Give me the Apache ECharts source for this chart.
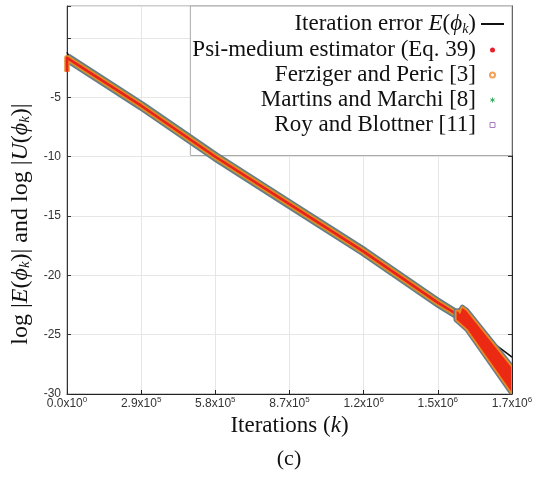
<!DOCTYPE html>
<html><head><meta charset="utf-8">
<script src="https://cdn.jsdelivr.net/npm/echarts@6/dist/echarts.min.js"></script>
<style>html,body{margin:0;padding:0;background:#fff}#c{width:543px;height:478px}</style>
</head><body><div id="c"></div>
<script>
// ---- data ----
const seriesNames = ['Iteration error', 'Psi-medium estimator (Eq. 39)', 'Ferziger and Peric [3]', 'Martins and Marchi [8]', 'Roy and Blottner [11]'];
const xTickMant = ['0.0', '2.9', '5.8', '8.7', '1.2', '1.5', '1.7'];
const xTickExp = ['0', '5', '5', '5', '6', '6', '6'];
const yTickValues = [-30, -25, -20, -15, -10, -5];

const errK   = [0, 15000, 290000, 580000, 870000, 1160000, 1450000, 1525000, 1740000];
const errVal = [-1.2, -1.87, -5.7, -10.0, -14.0, -18.0, -22.3, -23.4, -26.9];

const estK      = [0, 0, 290000, 580000, 870000, 1160000, 1450000, 1525000];
const psiVals   = [-2.85, -1.67, -5.7, -10.0, -14.0, -18.0, -22.3, -23.3];
const ferzVals  = [-2.85, -1.67, -5.7, -10.0, -14.0, -18.0, -22.3, -23.3];
const estKb     = [0, 290000, 580000, 870000, 1160000, 1450000, 1525000];
const martVals  = [-1.67, -5.7, -10.0, -14.0, -18.0, -22.3, -23.3];
const royVals   = [-1.67, -5.7, -10.0, -14.0, -18.0, -22.3, -23.3];

// oscillating region of the estimators near the end (upper / lower envelope)
const wedgeTopK   = [1520000, 1531000, 1536000, 1541000, 1546000, 1552000, 1562000, 1740000];
const wedgeTopVal = [-23.0, -22.95, -23.15, -22.8, -22.65, -22.75, -22.9, -27.7];
const wedgeBotK   = [1520000, 1564000, 1740000];
const wedgeBotVal = [-23.75, -24.6, -30.0];

// ---- chart ----
const serif = '"Liberation Serif", "Times New Roman", serif';
const sans = '"Liberation Sans", Arial, sans-serif';
const zip = (a, b) => a.map((v, i) => [v, b[i]]);

const richFor = size => ({
  n: { fontFamily: serif, fontSize: size, lineHeight: 25, color: '#111' },
  i: { fontFamily: serif, fontSize: size, lineHeight: 25, color: '#111', fontStyle: 'italic' },
  s: { fontFamily: serif, fontSize: Math.round(size * 0.62), lineHeight: 10, color: '#111', fontStyle: 'italic', verticalAlign: 'bottom' }
});

const chart = echarts.init(document.getElementById('c'), null, { renderer: 'canvas' });

const bandSeries = (name, k, vals, color, width) => ({
  name, type: 'line', z: 3, data: zip(k, vals), symbol: 'none', showSymbol: false,
  lineStyle: { color, width, join: 'round', cap: 'butt' }, itemStyle: { color },
  emphasis: { disabled: true }, animation: false
});

chart.setOption({
  animation: false,
  grid: { left: 67, right: 31, top: 6, bottom: 84, show: true, borderColor: '#999', borderWidth: 1, outerBoundsMode: 'none' },
  xAxis: {
    type: 'value', min: 0, max: 1740000, interval: 290000,
    axisLine: { onZero: false, lineStyle: { color: '#222', width: 1 } },
    axisTick: { inside: true, length: 4, lineStyle: { color: '#222' } },
    splitLine: { show: true, lineStyle: { color: '#e6e6e6', width: 1 } },
    axisLabel: {
      margin: 2, color: '#333',
      formatter: v => { const i = Math.round(v / 290000); return '{b|' + xTickMant[i] + 'x10}{sup|' + xTickExp[i] + '}'; },
      rich: {
        b: { fontFamily: sans, fontSize: 12, lineHeight: 16, color: '#333' },
        sup: { fontFamily: sans, fontSize: 8, lineHeight: 8, color: '#333', verticalAlign: 'top' }
      }
    },
    name: '{n|Iterations (}{i|k}{n|)}', nameLocation: 'middle', nameGap: 18,
    nameTextStyle: { rich: richFor(23) }
  },
  yAxis: [{
    type: 'value', min: -30, max: 2.7, interval: 5,
    axisLine: { show: true, onZero: false, lineStyle: { color: '#333', width: 1 } },
    axisTick: { show: true, inside: true, length: 4, lineStyle: { color: '#333' } },
    splitLine: { show: true, lineStyle: { color: '#e6e6e6', width: 1 } },
    axisLabel: {
      margin: 6, color: '#333', fontFamily: sans, fontSize: 12,
      formatter: v => yTickValues.indexOf(Math.round(v * 1000) / 1000) >= 0 ? String(v) : ''
    },
    name: '{n|log |}{i|E}{n|(}{i|ϕ}{s|k}{n|)| and log |}{i|U}{n|(}{i|ϕ}{s|k}{n|)|}',
    nameLocation: 'middle', nameGap: 27, nameRotate: 90,
    nameTextStyle: { rich: richFor(24), padding: [0, 48, 0, 0] }
  }, {
    type: 'value', min: -30, max: 2.7, interval: 5, position: 'right',
    axisLine: { show: true, onZero: false, lineStyle: { color: '#222', width: 1 } },
    axisTick: { show: true, inside: true, length: 4, lineStyle: { color: '#333' } },
    axisLabel: { show: false }, splitLine: { show: false }
  }],
  legend: {
    orient: 'vertical', align: 'right', right: 31, top: 6,
    itemWidth: 23, itemHeight: 5, itemGap: 2,
    padding: [6.5, 7, 19, 2],
    borderColor: '#aaa', borderWidth: 1, backgroundColor: '#fff', z: 1,
    selectedMode: false,
    data: [
      { name: seriesNames[0], itemStyle: { color: 'rgba(0,0,0,0)', borderWidth: 0 } },
      { name: seriesNames[1], icon: 'circle', itemStyle: { color: '#e8202a', borderWidth: 0 } },
      { name: seriesNames[2], icon: 'emptyCircle', itemStyle: { color: '#f2a15a', borderWidth: 0 } },
      { name: seriesNames[3], icon: 'path://M5,0V10M0.7,2.5L9.3,7.5M0.7,7.5L9.3,2.5', itemStyle: { color: '#3cb060', borderColor: '#3cb060', borderWidth: 1 } },
      { name: seriesNames[4], icon: 'path://M0,0H10V10H0Z', itemStyle: { color: 'rgba(0,0,0,0)', borderColor: '#a77cc0', borderWidth: 1 } }
    ],
    formatter: name => name === seriesNames[0]
      ? '{n|Iteration error }{i|E}{n|(}{i|ϕ}{s|k}{n|)}'
      : '{n|' + name + '}',
    textStyle: { rich: richFor(23) }
  },
  graphic: [{
    type: 'text', x: 289, y: 459,
    style: { text: '(c)', fontFamily: serif, fontSize: 22, fill: '#111',
      align: 'center', verticalAlign: 'middle', textAlign: 'center', textVerticalAlign: 'middle' }
  }],
  series: [
    { name: seriesNames[0], type: 'line', z: 2, data: zip(errK, errVal), symbol: 'none', showSymbol: false,
      lineStyle: { color: '#111', width: 1.6 }, itemStyle: { color: 'rgba(0,0,0,0)' }, emphasis: { disabled: true } },
    bandSeries(seriesNames[4], estKb, royVals, '#66798b', 9.5),
    bandSeries(seriesNames[3], estKb, martVals, '#6e9466', 7),
    bandSeries(seriesNames[2], estK, ferzVals, '#ea8a24', 5.5),
    bandSeries(seriesNames[1], estK, psiVals, '#e6221c', 2.5),
    {
      name: 'psi-oscillation', type: 'custom', z: 4, clip: true,
      data: [[wedgeTopK[0], wedgeTopVal[0]]],
      renderItem: (params, api) => {
        const pts = zip(wedgeTopK, wedgeTopVal)
          .concat(zip(wedgeBotK, wedgeBotVal).reverse())
          .map(p => api.coord(p));
        return { type: 'group', children: [
          { type: 'polygon', shape: { points: pts }, style: { fill: 'none', stroke: '#66798b', lineWidth: 4.5, lineJoin: 'round' } },
          { type: 'polygon', shape: { points: pts }, style: { fill: '#ec2a14', stroke: '#ea8a24', lineWidth: 1.8, lineJoin: 'round' } }
        ] };
      }
    }
  ]
});
</script></body></html>
